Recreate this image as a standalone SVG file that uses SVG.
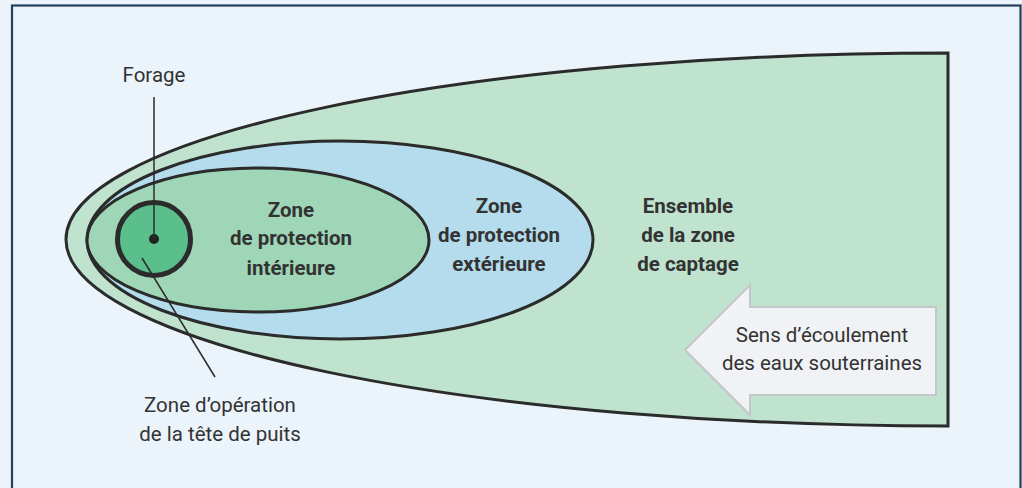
<svg xmlns="http://www.w3.org/2000/svg" width="1022" height="488" viewBox="0 0 1022 488">
<style>
.zone{stroke:#2b2b2b;stroke-width:3}
.lbl{font-family:Roboto,"Liberation Sans",sans-serif;fill:#333;text-anchor:middle}
.b{font-weight:bold;font-size:20.5px}
.r{font-size:20.5px}
.lead{stroke:#2b2b2b;stroke-width:1.5;fill:none}
</style>
<rect x="0" y="0" width="1022" height="488" fill="#ebf4fa"/>
<rect x="12" y="5.5" width="1008.5" height="500" fill="#ebf4fa" stroke="#24405c" stroke-width="2.2"/>
<g id="captage">
<path class="zone" d="M948 53 A882 186.5 0 0 0 948 426 Z" fill="#bfe3ce"/>
<text class="lbl b" x="688" y="213">Ensemble</text>
<text class="lbl b" x="688" y="242">de la zone</text>
<text class="lbl b" x="688" y="271">de captage</text>
</g>
<g id="exterieure">
<ellipse class="zone" cx="340" cy="240" rx="253" ry="99" fill="#b4dcec"/>
<text class="lbl b" x="499" y="213">Zone</text>
<text class="lbl b" x="499" y="242">de protection</text>
<text class="lbl b" x="499" y="271">extérieure</text>
</g>
<g id="interieure">
<ellipse class="zone" cx="258" cy="240" rx="171" ry="72" fill="#a0d6b8"/>
<text class="lbl b" x="291" y="217">Zone</text>
<text class="lbl b" x="291" y="245">de protection</text>
<text class="lbl b" x="291" y="275">intérieure</text>
</g>
<g id="tete-de-puits">
<circle cx="154" cy="239" r="36.5" fill="#5bbf8c" stroke="#2b2b2b" stroke-width="5"/>
</g>
<g id="forage">
<circle cx="154" cy="239" r="5" fill="#222"/>
<text class="lbl r" x="154" y="82">Forage</text>
</g>
<g id="connectors">
<line class="lead" x1="154" y1="97" x2="154" y2="239"/>
<line class="lead" x1="142" y1="258" x2="215" y2="377"/>
</g>
<g id="operation-label">
<text class="lbl r" x="220" y="412">Zone d’opération</text>
<text class="lbl r" x="220" y="441">de la tête de puits</text>
</g>
<g id="sens">
<path d="M685 350 L750 285 L750 307 L936 307 L936 395 L750 395 L750 415 Z" fill="#f0f2f5" stroke="#c4c7ca" stroke-width="2"/>
<text class="lbl" style="font-size:20.5px" x="822" y="342">Sens d’écoulement</text>
<text class="lbl" style="font-size:20.5px" x="822" y="370">des eaux souterraines</text>
</g>
</svg>
